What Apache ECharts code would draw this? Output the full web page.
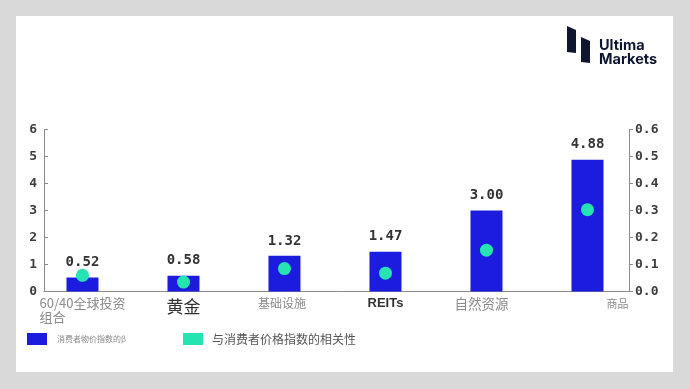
<!DOCTYPE html>
<html>
<head>
<meta charset="utf-8">
<script src="https://cdn.jsdelivr.net/npm/echarts@6/dist/echarts.min.js"></script>
<style>html,body{margin:0;padding:0;background:#d9d9d9;}#c{width:690px;height:389px;}</style>
</head>
<body>
<div id="c"></div>
<script>
const categories = ['60/40全球投资\n组合', '黄金', '基础设施', 'REITs', '自然资源', '商品'];
const betaValues = [0.52, 0.58, 1.32, 1.47, 3.00, 4.88];
const corrValues = [0.06, 0.035, 0.085, 0.068, 0.153, 0.303];
const betaName = '消费者物价指数的β';
const corrName = '与消费者价格指数的相关性';
const leftTicks = [0, 1, 2, 3, 4, 5, 6];
const rightTicks = [0.0, 0.1, 0.2, 0.3, 0.4, 0.5, 0.6];
const catStyleKeys = ['p', 'g', 's', 'r', 'n', 'c'];

const chart = echarts.init(document.getElementById('c'), null, {renderer: 'canvas'});
const cjk = '"Noto Sans CJK SC", "Noto Sans", sans-serif';
const mono = '"DejaVu Sans Mono", monospace';

function catLabel(v) {
  const i = Math.round(v);
  const key = catStyleKeys[i];
  return categories[i].split('\n').map(s => '{' + key + '|' + s + '}').join('\n');
}

chart.setOption({
  backgroundColor: '#d9d9d9',
  animation: false,
  graphic: {
    elements: [
      {type: 'rect', z: -100, shape: {x: 16, y: 16, width: 657, height: 356}, style: {fill: '#ffffff'}},
      {type: 'polygon', shape: {points: [[567, 26], [576, 30], [576, 53], [567, 52]]}, style: {fill: '#0f1630'}},
      {type: 'polygon', shape: {points: [[581, 37], [590, 41], [590, 63], [581, 62]]}, style: {fill: '#0f1630'}},
      {type: 'text', x: 599, y: 38, style: {text: 'Ultima\nMarkets', font: '700 14.5px Inter, sans-serif', lineHeight: 14.5, fill: '#0f1630'}}
    ]
  },
  grid: {left: 44, right: 61, top: 129.5, bottom: 97.5, containLabel: false, outerBoundsMode: 'none'},
  legend: [
    {
      left: 22, top: 328, itemWidth: 20, itemHeight: 12,
      data: [{name: betaName, icon: 'rect'}],
      textStyle: {fontFamily: cjk, fontSize: 8, color: '#8a8a8a', padding: [0, 0, 0, 5]}
    },
    {
      left: 178, top: 328, itemWidth: 20, itemHeight: 12,
      data: [{name: corrName, icon: 'rect'}],
      textStyle: {fontFamily: cjk, fontSize: 12, color: '#555', padding: [0, 0, 0, 4]}
    }
  ],
  xAxis: {
    type: 'value', min: -0.381, max: 5.411,
    splitLine: {show: false},
    axisLine: {show: true, onZero: false, lineStyle: {color: '#8c8c8c', width: 1}},
    axisTick: {show: false},
    axisLabel: {
      customValues: [0, 1, 2, 3, 4, 5],
      margin: 5,
      formatter: catLabel,
      rich: {
        p: {fontFamily: cjk, fontSize: 13, color: '#8a8a8a', lineHeight: 14, align: 'left'},
        g: {fontFamily: cjk, fontSize: 17, color: '#333', lineHeight: 21},
        s: {fontFamily: cjk, fontSize: 12, color: '#8a8a8a', lineHeight: 14, padding: [0, 5, 0, 0]},
        r: {fontFamily: '"Liberation Sans", Arial, sans-serif', fontWeight: 'bold', fontSize: 13, color: '#333', lineHeight: 14},
        n: {fontFamily: cjk, fontSize: 13.5, color: '#8a8a8a', lineHeight: 14, padding: [0, 10, 0, 0]},
        c: {fontFamily: cjk, fontSize: 11, color: '#8a8a8a', lineHeight: 14, padding: [0, 0, 0, 60]}
      }
    }
  },
  yAxis: [
    {
      type: 'value', position: 'left', min: leftTicks[0], max: leftTicks[leftTicks.length - 1], interval: 1,
      splitLine: {show: false},
      axisLine: {show: true, onZero: false, lineStyle: {color: '#8c8c8c'}},
      axisTick: {show: true, inside: true, length: 4, lineStyle: {color: '#8c8c8c'}},
      axisLabel: {fontFamily: mono, fontWeight: 'bold', fontSize: 13, color: '#3d3d3d', margin: 7}
    },
    {
      type: 'value', position: 'right', min: rightTicks[0], max: rightTicks[rightTicks.length - 1], interval: 0.1,
      splitLine: {show: false},
      axisLine: {show: true, onZero: false, lineStyle: {color: '#8c8c8c'}},
      axisTick: {show: true, length: 4, lineStyle: {color: '#8c8c8c'}},
      axisLabel: {fontFamily: mono, fontWeight: 'bold', fontSize: 13, color: '#3d3d3d', margin: 6,
        formatter: v => v.toFixed(1)}
    }
  ],
  series: [
    {
      name: betaName, type: 'bar', yAxisIndex: 0, barWidth: 32,
      itemStyle: {color: '#1c1cde'},
      data: betaValues.map((v, i) => [i, v]),
      label: {show: true, position: 'top', distance: 8,
        fontFamily: mono, fontWeight: 'bold', fontSize: 14, color: '#333',
        formatter: p => p.value[1].toFixed(2)}
    },
    {
      name: corrName, type: 'scatter', yAxisIndex: 1, symbolSize: 13, z: 5,
      itemStyle: {color: '#25e4b2', opacity: 1},
      data: corrValues.map((v, i) => [i, v])
    }
  ]
});
</script>
</body>
</html>
